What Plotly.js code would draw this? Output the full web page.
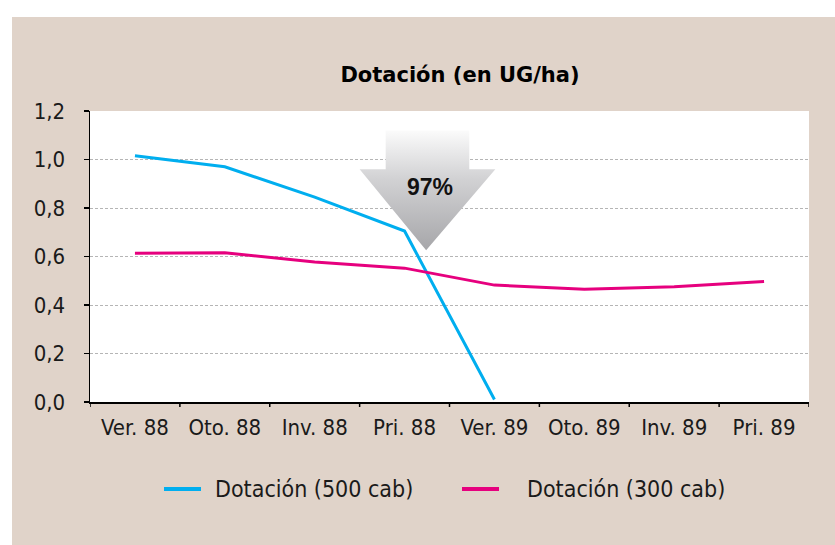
<!DOCTYPE html>
<html>
<head>
<meta charset="utf-8">
<script src="https://cdn.plot.ly/plotly-3.0.1.min.js"></script>
<style>html,body{margin:0;padding:0;background:#fff;}#chart{width:835px;height:545px;}</style>
</head>
<body>
<div id="chart"></div>
<script>
var categories = ["Ver. 88", "Oto. 88", "Inv. 88", "Pri. 88", "Ver. 89", "Oto. 89", "Inv. 89", "Pri. 89"];
var series500 = [1.015, 0.97, 0.845, 0.705, 0.01, null, null, null];
var series300 = [0.613, 0.615, 0.577, 0.552, 0.482, 0.465, 0.475, 0.497];
var seriesNames = ["Dotación (500 cab)", "Dotación (300 cab)"];
var yTicks = [0, 0.2, 0.4, 0.6, 0.8, 1.0, 1.2];
var arrowLabel = "97%";

var blue = "#00AEEF", pink = "#E6007E";
var tickFont = {family: "DejaVu Sans Condensed, Liberation Sans Narrow, sans-serif", size: 22, color: "#1a1a1a"};
var legendFont = {family: "DejaVu Sans Condensed, Liberation Sans Narrow, sans-serif", size: 23, color: "#1a1a1a"};

// decorative arrow (category-index / value units)
var ax = {shaftL: 2.79, shaftR: 3.72, headL: 2.50, headR: 4.01, tip: 3.24, tipY: 0.626, baseY: 0.96, topY: 1.12};
var arrow = {
  x: [ax.shaftL, ax.shaftR, ax.shaftR, ax.headR, ax.tip, ax.headL, ax.shaftL, ax.shaftL],
  y: [ax.topY, ax.topY, ax.baseY, ax.baseY, ax.tipY, ax.baseY, ax.baseY, ax.topY],
  type: "scatter", mode: "lines", fill: "toself", line: {width: 0, color: "rgba(0,0,0,0)"},
  fillgradient: {type: "vertical", colorscale: [[0, "#a6a6a9"], [0.6, "#d2d2d4"], [1, "#fbfbfb"]]},
  hoverinfo: "skip", showlegend: false
};

var traces = [
  arrow,
  {x: [0,1,2,3,4,5,6,7], y: series500, type: "scatter", mode: "lines", name: seriesNames[0], line: {color: blue, width: 3}, showlegend: false},
  {x: [0,1,2,3,4,5,6,7], y: series300, type: "scatter", mode: "lines", name: seriesNames[1], line: {color: pink, width: 3}, showlegend: false}
];

var L = 90, R = 26, T = 111, B = 143, W = 835, H = 545;
var pw = W - L - R, ph = H - T - B;
function px(x) { return (x - L) / pw; }
function py(y) { return (H - B - y) / ph; }

var layout = {
  width: W, height: H,
  margin: {l: L, r: R, t: T, b: B, pad: 0},
  paper_bgcolor: "#ffffff",
  plot_bgcolor: "rgba(0,0,0,0)",
  separators: ",.",
  showlegend: false,
  title: {text: "<b>Dotación (en UG/ha)</b>", font: {family: "DejaVu Sans, Verdana, sans-serif", size: 21, color: "#000"},
          xref: "container", x: 460 / W, xanchor: "center", yref: "container", y: 1 - 75 / H, yanchor: "middle"},
  xaxis: {
    type: "linear", range: [-0.5, 7.5], tickmode: "array",
    tickvals: [0,1,2,3,4,5,6,7], ticktext: categories,
    showgrid: false, zeroline: false, showline: true, linecolor: "#000", linewidth: 1.5,
    ticks: "", tickfont: tickFont, ticklabelstandoff: 5, fixedrange: true
  },
  yaxis: {
    range: [0, 1.2], tickmode: "array", tickvals: yTicks, tickformat: ".1f",
    showgrid: true, gridcolor: "#b5b5b5", griddash: "3px,2px", gridwidth: 1,
    zeroline: false, showline: true, linecolor: "#000", linewidth: 1.5,
    ticks: "outside", ticklen: 5, tickcolor: "#000", tickwidth: 1.5,
    tickfont: tickFont, ticklabelstandoff: 14, fixedrange: true
  },
  shapes: [
    {type: "rect", xref: "paper", yref: "paper", x0: px(12), x1: px(835), y0: py(545), y1: py(17), fillcolor: "#e0d3c9", line: {width: 0}, layer: "below"},
    {type: "rect", xref: "paper", yref: "paper", x0: 0, x1: 1, y0: 0, y1: 1, fillcolor: "#ffffff", line: {width: 0}, layer: "below"},
    {type: "line", xref: "paper", yref: "paper", x0: px(164), x1: px(201), y0: py(489), y1: py(489), line: {color: blue, width: 4}},
    {type: "line", xref: "paper", yref: "paper", x0: px(462), x1: px(499), y0: py(489), y1: py(489), line: {color: pink, width: 4}}
  ],
  annotations: [
    {text: "<b>" + arrowLabel + "</b>", xref: "x", yref: "y", x: 3.28, y: 0.885, showarrow: false,
     font: {family: "Liberation Sans, Arial, sans-serif", size: 23, color: "#111"}},
    {text: seriesNames[0], xref: "paper", yref: "paper", x: px(213), y: py(489), xanchor: "left", yanchor: "middle", showarrow: false, font: legendFont},
    {text: seriesNames[1], xref: "paper", yref: "paper", x: px(525), y: py(489), xanchor: "left", yanchor: "middle", showarrow: false, font: legendFont}
  ]
};

for (var i = 0; i <= categories.length; i++) {
  layout.shapes.push({type: "line", xref: "x", yref: "paper", x0: i - 0.5, x1: i - 0.5, y0: 0, y1: -5 / ph, line: {color: "#000", width: 1.5}});
}

Plotly.newPlot("chart", traces, layout, {displayModeBar: false, staticPlot: true});
</script>
</body>
</html>
